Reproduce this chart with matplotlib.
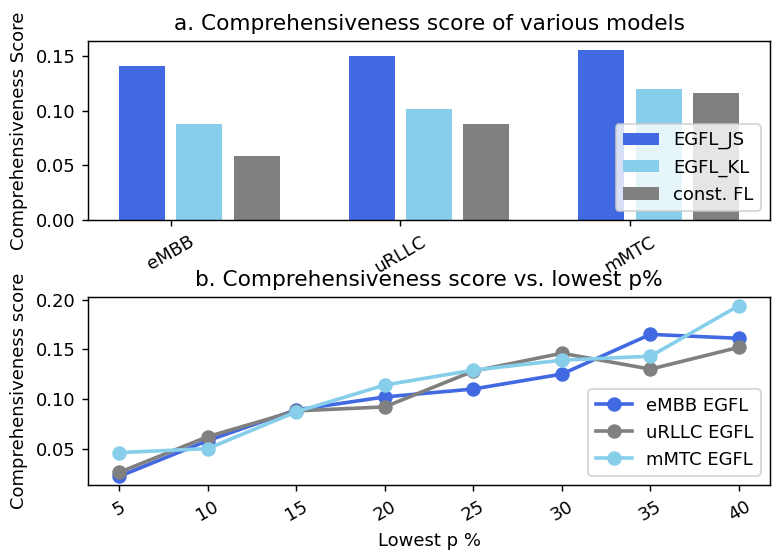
import numpy as np
import matplotlib
matplotlib.use("Agg")
import matplotlib.pyplot as plt

# panel a data
services = ["eMBB", "uRLLC", "mMTC"]
egfl_js = [0.141, 0.150, 0.156]
egfl_kl = [0.088, 0.102, 0.120]
const_fl = [0.059, 0.0875, 0.116]

# panel b data
lowest_p = [5, 10, 15, 20, 25, 30, 35, 40]
embb_egfl = [0.022, 0.058, 0.089, 0.102, 0.110, 0.125, 0.165, 0.161]
urllc_egfl = [0.026, 0.062, 0.088, 0.092, 0.128, 0.146, 0.130, 0.152]
mmtc_egfl = [0.046, 0.050, 0.087, 0.114, 0.129, 0.139, 0.143, 0.194]

W, H = 780, 557
DPI = 130
fig = plt.figure(figsize=(W / DPI, H / DPI), dpi=DPI)

def box(l, t, r, b):
    return [l / W, 1 - b / H, (r - l) / W, (b - t) / H]

ax1 = fig.add_axes(box(88, 41, 770, 220))
ax2 = fig.add_axes(box(88, 297, 770, 485))

x = np.arange(len(services))
w = 0.2
ax1.bar(x - 0.125, egfl_js, w, color="royalblue", label="EGFL_JS")
ax1.bar(x + 0.125, egfl_kl, w, color="skyblue", label="EGFL_KL")
ax1.bar(x + 0.375, const_fl, w, color="gray", label="const. FL")
ax1.set_xticks(x)
ax1.set_xticklabels(services, rotation=30)
ax1.set_yticks([0.0, 0.05, 0.10, 0.15])
ax1.set_ylabel("Comprehensiveness Score")
ax1.set_title("a. Comprehensiveness score of various models")
ax1.legend(loc="lower right")

ax2.plot(lowest_p, embb_egfl, "o-", color="royalblue", lw=2, ms=7, label="eMBB EGFL")
ax2.plot(lowest_p, urllc_egfl, "o-", color="gray", lw=2, ms=7, label="uRLLC EGFL")
ax2.plot(lowest_p, mmtc_egfl, "o-", color="skyblue", lw=2, ms=7, label="mMTC EGFL")
ax2.set_xticks(lowest_p)
ax2.set_xticklabels([str(v) for v in lowest_p], rotation=30)
ax2.set_yticks([0.05, 0.10, 0.15, 0.20])
ax2.set_xlabel("Lowest p %")
ax2.set_ylabel("Comprehensiveness score")
ax2.set_title("b. Comprehensiveness score vs. lowest p%")
ax2.legend(loc="lower right")

fig.savefig("out.png", dpi=DPI)
